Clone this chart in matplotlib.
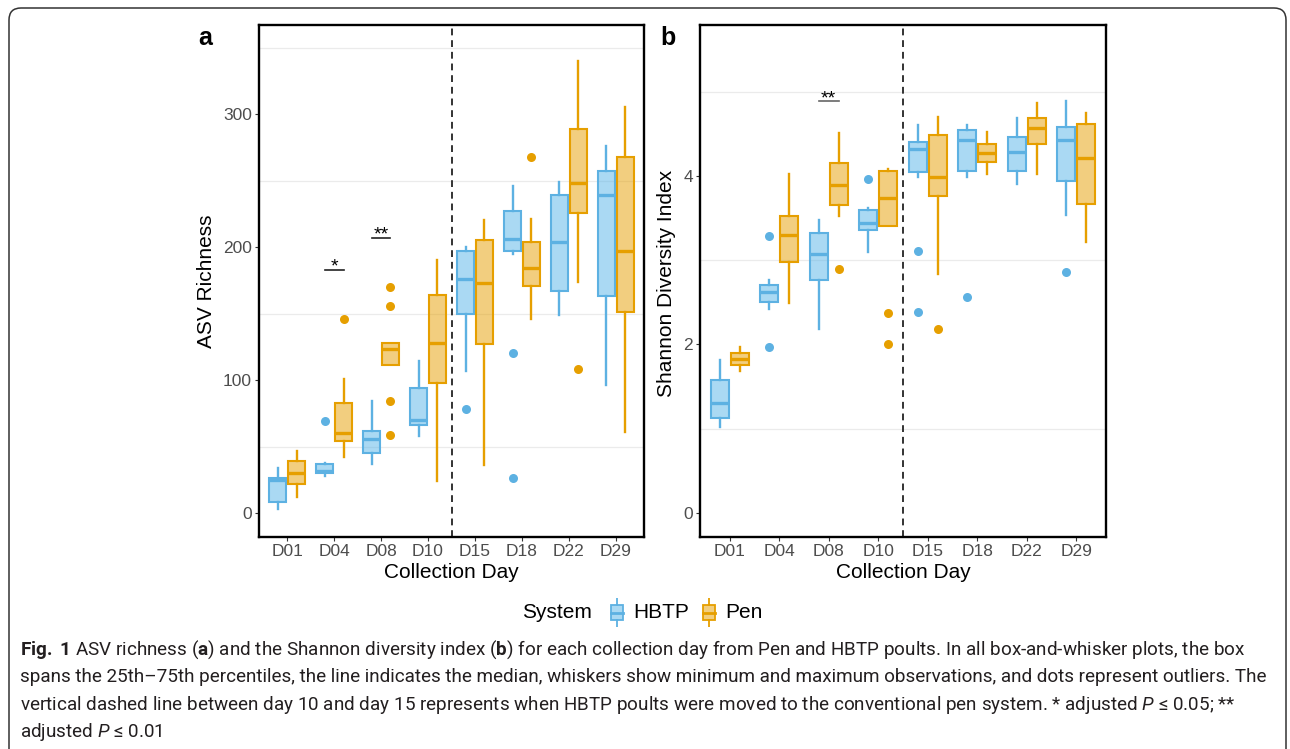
import numpy as np
import matplotlib
matplotlib.use('Agg')
import matplotlib.pyplot as plt
from matplotlib import font_manager
from matplotlib.patches import FancyBboxPatch, Rectangle

names = {f.name for f in font_manager.fontManager.ttflist}
cap_font = 'Liberation Sans Narrow' if 'Liberation Sans Narrow' in names else 'Roboto'

plt.rcParams['font.family'] = ['Liberation Sans', 'DejaVu Sans']
plt.rcParams['mathtext.fontset'] = 'custom'
plt.rcParams['mathtext.rm'] = cap_font
plt.rcParams['mathtext.bf'] = cap_font + ':bold'
plt.rcParams['mathtext.it'] = cap_font + ':italic'

days = ['D01', 'D04', 'D08', 'D10', 'D15', 'D18', 'D22', 'D29']

# ASV richness
rich_hbtp_lo = [3, 28, 37, 58, 107, 195, 149, 96]
rich_hbtp_q1 = [8, 30, 45, 66, 150, 197, 167, 163]
rich_hbtp_med = [25, 32, 56, 70, 176, 206, 204, 239]
rich_hbtp_q3 = [26, 37, 62, 94, 197, 227, 239, 257]
rich_hbtp_hi = [34, 38, 84, 114, 200, 246, 249, 276]
rich_hbtp_out = [[], [69], [], [], [78], [120, 26], [], []]

rich_pen_lo = [12, 42, 111, 24, 36, 146, 174, 61]
rich_pen_q1 = [22, 54, 111, 98, 127, 171, 226, 151]
rich_pen_med = [30, 60, 123, 128, 173, 184, 248, 197]
rich_pen_q3 = [39, 83, 128, 164, 205, 204, 289, 268]
rich_pen_hi = [47, 101, 128, 190, 220, 221, 340, 305]
rich_pen_out = [[], [146], [170, 156, 84, 59], [], [], [268], [108], []]

# Shannon diversity index
sh_hbtp_lo = [1.02, 2.42, 2.18, 3.10, 3.99, 3.99, 3.90, 3.54]
sh_hbtp_q1 = [1.13, 2.50, 2.76, 3.36, 4.04, 4.06, 4.06, 3.94]
sh_hbtp_med = [1.30, 2.62, 3.07, 3.44, 4.32, 4.42, 4.28, 4.43]
sh_hbtp_q3 = [1.58, 2.71, 3.32, 3.59, 4.40, 4.54, 4.46, 4.58]
sh_hbtp_hi = [1.82, 2.77, 3.48, 3.62, 4.60, 4.60, 4.69, 4.89]
sh_hbtp_out = [[], [3.29, 1.97], [], [3.96], [3.11, 2.39], [2.56], [], [2.86]]

sh_pen_lo = [1.69, 2.49, 3.52, 3.41, 2.83, 4.02, 4.02, 3.22]
sh_pen_q1 = [1.76, 2.98, 3.66, 3.41, 3.76, 4.17, 4.38, 3.67]
sh_pen_med = [1.83, 3.30, 3.89, 3.74, 3.99, 4.27, 4.57, 4.21]
sh_pen_q3 = [1.90, 3.52, 4.15, 4.06, 4.48, 4.38, 4.69, 4.62]
sh_pen_hi = [1.97, 4.02, 4.51, 4.08, 4.70, 4.52, 4.86, 4.74]
sh_pen_out = [[], [], [2.90], [2.37, 2.01], [2.18], [], [], []]

# significance marks: (day index, height, label)
rich_sig = [(1, 183, '*'), (2, 207, '**')]
sh_sig = [(2, 4.886, '**')]

blue = '#5DB1E2'
orange = '#E69F00'
blue_fill = (0.337, 0.706, 0.914, 0.5)
orange_fill = (0.902, 0.624, 0.0, 0.5)

W, H = 1290, 749
fig = plt.figure(figsize=(W / 100, H / 100), dpi=100)


def rect(l, t, r, b):
    return [l / W, 1 - b / H, (r - l) / W, (b - t) / H]


def draw_boxes(ax, lo, q1, med, q3, hi, out, offset, edge, fill):
    stats = [dict(whislo=a, q1=b, med=c, q3=d, whishi=e, fliers=f)
             for a, b, c, d, e, f in zip(lo, q1, med, q3, hi, out)]
    pos = np.arange(1, len(stats) + 1) + offset
    ax.bxp(stats, positions=pos, widths=0.36, patch_artist=True,
           showcaps=False, manage_ticks=False,
           boxprops=dict(facecolor=fill, edgecolor=edge, linewidth=1.5),
           medianprops=dict(color=edge, linewidth=2.4, solid_capstyle='butt'),
           whiskerprops=dict(color=edge, linewidth=1.7),
           flierprops=dict(marker='o', markerfacecolor=edge,
                           markeredgecolor='none', markersize=6.5))


def style(ax, ylim, major, minor):
    ax.set_xlim(0.4, 8.6)
    ax.set_ylim(*ylim)
    ax.set_xticks(np.arange(1, 9))
    ax.set_xticklabels(days)
    ax.set_yticks(major)
    ax.set_yticks(minor, minor=True)
    ax.set_axisbelow(True)
    ax.grid(which='minor', axis='y', color='#EBEBEB', lw=0.9)
    ax.tick_params(which='minor', left=False)
    ax.tick_params(which='major', length=3, width=0.8, color='#333333',
                   labelcolor='#4D4D4D', labelsize=12.5, pad=2)
    for s in ax.spines.values():
        s.set_linewidth(1.7)
        s.set_color('black')
    ax.axvline(4.5, color='#333333', lw=1.4, ls=(0, (3.5, 2.5)), zorder=1)


def sig(ax, marks, line_col):
    for i, y, lab in marks:
        x = i + 1
        ax.plot([x - 0.2, x + 0.2], [y, y], color=line_col, lw=1.2)
        ax.annotate(lab, (x, y), xytext=(0, -1.5), textcoords='offset points',
                    ha='center', va='baseline', fontsize=14, color='black')


ax1 = fig.add_axes(rect(259, 25, 644, 537))
style(ax1, (-18, 367), [0, 100, 200, 300], [50, 150, 250, 350])
draw_boxes(ax1, rich_hbtp_lo, rich_hbtp_q1, rich_hbtp_med, rich_hbtp_q3,
           rich_hbtp_hi, rich_hbtp_out, -0.2, blue, blue_fill)
draw_boxes(ax1, rich_pen_lo, rich_pen_q1, rich_pen_med, rich_pen_q3,
           rich_pen_hi, rich_pen_out, 0.2, orange, orange_fill)
sig(ax1, rich_sig, '#222222')

ax2 = fig.add_axes(rect(700, 25, 1106, 537))
style(ax2, (-0.285, 5.79), [0, 2, 4], [1, 3, 5])
draw_boxes(ax2, sh_hbtp_lo, sh_hbtp_q1, sh_hbtp_med, sh_hbtp_q3,
           sh_hbtp_hi, sh_hbtp_out, -0.2, blue, blue_fill)
draw_boxes(ax2, sh_pen_lo, sh_pen_q1, sh_pen_med, sh_pen_q3,
           sh_pen_hi, sh_pen_out, 0.2, orange, orange_fill)
sig(ax2, sh_sig, '#666666')

# axis titles and panel letters
fig.text(206 / W, 1 - 281 / H, 'ASV Richness', rotation=90, ha='center',
         va='center', fontsize=15)
fig.text(667 / W, 1 - 283 / H, 'Shannon Diversity Index', rotation=90,
         ha='center', va='center', fontsize=15)
fig.text(451 / W, 1 - 573 / H, 'Collection Day', ha='center', va='center',
         fontsize=15)
fig.text(903 / W, 1 - 573 / H, 'Collection Day', ha='center', va='center',
         fontsize=15)
fig.text(205 / W, 1 - 38 / H, 'a', ha='center', va='center', fontsize=18,
         fontweight='bold')
fig.text(668 / W, 1 - 38 / H, 'b', ha='center', va='center', fontsize=18,
         fontweight='bold')

# legend
fig.text(522 / W, 1 - 612 / H, 'System', ha='left', va='center', fontsize=15)
for x0, lab, edge, fill in [(609, 'HBTP', blue, blue_fill),
                            (701, 'Pen', orange, orange_fill)]:
    k = fig.add_axes(rect(x0, 598, x0 + 16, 627))
    k.set_xlim(0, 1)
    k.set_ylim(0, 1)
    k.axis('off')
    k.add_patch(Rectangle((0.12, 0.25), 0.76, 0.5, facecolor=fill,
                          edgecolor=edge, lw=1.3))
    k.plot([0.12, 0.88], [0.5, 0.5], color=edge, lw=2)
    k.plot([0.5, 0.5], [0, 0.25], color=edge, lw=1.3)
    k.plot([0.5, 0.5], [0.75, 1], color=edge, lw=1.3)
    fig.text((x0 + 24) / W, 1 - 612 / H, lab, ha='left', va='center',
             fontsize=15)

# caption
cap_lines = [
    r"$\bf{Fig.}$ $\bf{1}$ ASV richness ($\bf{a}$) and the Shannon diversity index ($\bf{b}$) for each collection day from Pen and HBTP poults. In all box-and-whisker plots, the box",
    "spans the 25th\u201375th percentiles, the line indicates the median, whiskers show minimum and maximum observations, and dots represent outliers. The",
    "vertical dashed line between day 10 and day 15 represents when HBTP poults were moved to the conventional pen system. * adjusted $\\it{P}$ \u2264 0.05; **",
    "adjusted $\\it{P}$ \u2264 0.01",
]
cap_y = [650, 677, 705, 732]
texts = []
for line, y in zip(cap_lines, cap_y):
    t = fig.text(20 / W, 1 - y / H, line, ha='left', va='center', fontsize=12,
                 family=[cap_font, 'DejaVu Sans'], color='#231F20')
    texts.append(t)
r = fig.canvas.get_renderer()
w = texts[1].get_window_extent(r).width
fs = 12 * 1244 / w
for t in texts:
    t.set_fontsize(fs)

# rounded frame around the figure
frame = FancyBboxPatch((0.09, -0.4), 12.77, 7.81, boxstyle='round,pad=0,rounding_size=0.12',
                       transform=fig.dpi_scale_trans, fill=False,
                       edgecolor='#333333', lw=1.1)
fig.patches.append(frame)

fig.savefig('out.png', dpi=100)
